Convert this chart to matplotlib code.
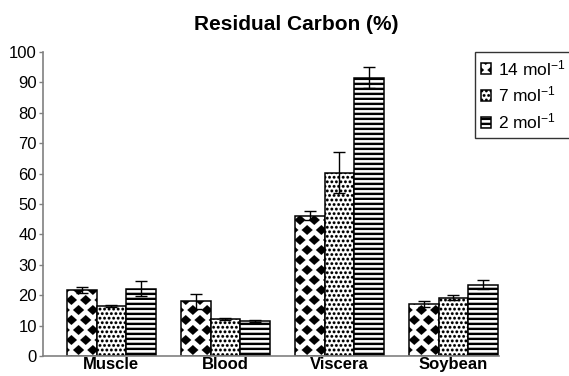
import numpy as np
import matplotlib
matplotlib.use('Agg')
import matplotlib.pyplot as plt
import matplotlib.hatch as mhatch
from matplotlib.path import Path

# ---------------- data ----------------
categories = ['Muscle', 'Blood', 'Viscera', 'Soybean']
series_labels = ['14 mol$^{-1}$', '7 mol$^{-1}$', '2 mol$^{-1}$']
values_14 = [21.7, 18.0, 46.2, 17.0]
errors_14 = [1.0, 2.5, 1.5, 1.0]
values_7 = [16.5, 12.3, 60.3, 19.2]
errors_7 = [0.3, 0.3, 6.7, 0.9]
values_2 = [22.2, 11.5, 91.6, 23.5]
errors_2 = [2.5, 0.3, 3.5, 1.6]
yticks = list(range(0, 101, 10))
title = 'Residual Carbon (%)'

# ---------------- custom fill textures (hatch tiles) ----------------
def _diamonds():
    ncol, nrow = 7, 10
    hw, hh = 0.055, 0.049
    polys = []
    for j in range(nrow + 1):
        y = j / nrow
        if j % 2 == 0:
            xs = np.arange(ncol + 1) / ncol
        else:
            xs = (np.arange(ncol) + 0.5) / ncol
        for x in xs:
            polys.append([(x - hw, y), (x, y + hh), (x + hw, y), (x, y - hh)])
    return polys


def _dots():
    n = 22
    r = 0.0145
    ang = np.linspace(0, 2 * np.pi, 9)[:-1]
    polys = []
    for j in range(n + 1):
        y = j / n
        if j % 2 == 0:
            xs = np.arange(n + 1) / n
        else:
            xs = (np.arange(n) + 0.5) / n
        for x in xs:
            polys.append([(x + r * np.cos(a), y + r * np.sin(a)) for a in ang])
    return polys


def _stripes():
    n = 20
    t = 0.022
    polys = []
    for j in range(n):
        y = j / n
        polys.append([(-0.01, y), (1.01, y), (1.01, y + t), (-0.01, y + t)])
    return polys


_TEX = {'*': _diamonds(), 'o': _dots(), '-': _stripes()}


class PolyHatch(mhatch.HatchPatternBase):
    def __init__(self, hatch, density):
        polys = []
        for ch, p in _TEX.items():
            if ch in hatch:
                polys += p
        self.polys = polys
        self.num_vertices = sum(len(p) + 1 for p in polys)

    def set_vertices_and_codes(self, vertices, codes):
        i = 0
        for p in self.polys:
            n = len(p)
            vertices[i:i + n] = p
            vertices[i + n] = p[0]
            codes[i] = Path.MOVETO
            codes[i + 1:i + n] = Path.LINETO
            codes[i + n] = Path.CLOSEPOLY
            i += n + 1


mhatch._hatch_types = [PolyHatch]

# ---------------- figure ----------------
plt.rcParams['font.family'] = ['Liberation Sans', 'DejaVu Sans']
plt.rcParams['mathtext.fontset'] = 'custom'
plt.rcParams['mathtext.rm'] = 'Liberation Sans'
plt.rcParams['mathtext.it'] = 'Liberation Sans:italic'
plt.rcParams['mathtext.bf'] = 'Liberation Sans:bold'
plt.rcParams['hatch.linewidth'] = 0.1
plt.rcParams['hatch.color'] = 'black'

W, H = 569, 376
fig = plt.figure(figsize=(W / 100, H / 100), dpi=100)
ax_left, ax_right, ax_bottom, ax_top = 43, 499, 356, 52
ax = fig.add_axes([ax_left / W, 1 - ax_bottom / H,
                   (ax_right - ax_left) / W, (ax_bottom - ax_top) / H])

x = np.arange(len(categories))
w = 0.26
series = [(values_14, errors_14, '*'), (values_7, errors_7, 'o'), (values_2, errors_2, '-')]
handles = []
for k, (vals, errs, hatch) in enumerate(series):
    pos = x + (k - 1) * w
    b = ax.bar(pos, vals, width=w, facecolor='white', edgecolor='black',
               linewidth=1.1, hatch=hatch, zorder=2)
    ax.errorbar(pos, vals, yerr=errs, fmt='none', ecolor='black',
                elinewidth=1.0, capsize=4.5, capthick=1.0, zorder=3)
    handles.append(b)

ax.set_xlim(-0.6, 3.4)
ax.set_ylim(0, 100)
ax.set_yticks(yticks)
ax.set_yticklabels([str(t) for t in yticks], fontsize=12)
ax.set_xticks(x)
ax.set_xticklabels(categories, fontsize=12, fontweight='bold')
ax.tick_params(axis='x', length=0, pad=1)
ax.tick_params(axis='y', length=3, width=1, color='#808080', pad=1.5)
for s in ['top', 'right']:
    ax.spines[s].set_visible(False)
for s in ['left', 'bottom']:
    ax.spines[s].set_color('#808080')
    ax.spines[s].set_linewidth(1.2)
ax.set_facecolor('none')

fig.text(296 / W, 1 - 24 / H, title, ha='center', va='center',
         fontsize=15, fontweight='bold')

leg = ax.legend(handles, series_labels, loc='upper left',
                bbox_to_anchor=(475 / W, 1 - 52 / H), bbox_transform=fig.transFigure,
                borderaxespad=0, fancybox=False, frameon=True, edgecolor='black',
                fontsize=12.5, handlelength=0.6, handleheight=0.6,
                handletextpad=0.35, labelspacing=0.4, borderpad=0.35)
leg.get_frame().set_linewidth(1.0)

fig.savefig('out.png', dpi=100, facecolor='white')
